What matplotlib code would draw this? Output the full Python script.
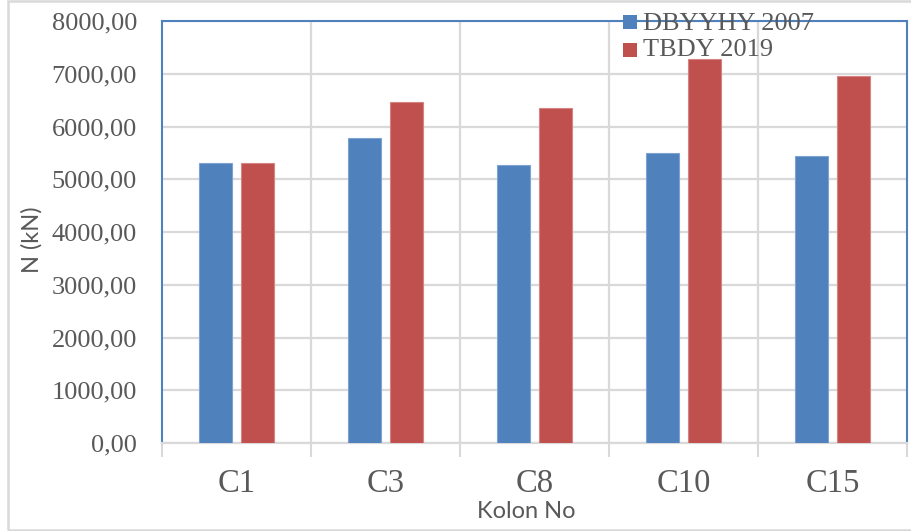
import matplotlib
matplotlib.use("Agg")
import matplotlib.pyplot as plt
from matplotlib.patches import Rectangle
from matplotlib.ticker import FuncFormatter, FixedLocator
import numpy as np

# Column axial forces (kN)
columns = ["C1", "C3", "C8", "C10", "C15"]
dbyyhy_2007 = [5309, 5777, 5277, 5504, 5441]
tbdy_2019 = [5303, 6465, 6352, 7271, 6955]
series_names = ["DBYYHY 2007", "TBDY 2019"]

blue = "#4F81BD"
red = "#C0504D"
grid_gray = "#D9D9D9"
text_gray = "#595959"

W, H = 911, 531
fig = plt.figure(figsize=(W / 100, H / 100), dpi=100)
ax = fig.add_axes([162 / W, 1 - 443 / H, (907 - 162) / W, (443 - 21) / H])

x = np.arange(len(columns))
bw = 0.224
off = 0.142
ax.bar(x - off, dbyyhy_2007, width=bw, color=blue, edgecolor="#7FA3D0",
       linewidth=0.8, zorder=3)
ax.bar(x + off, tbdy_2019, width=bw, color=red, edgecolor="#D48482",
       linewidth=0.8, zorder=3)

ax.set_xlim(-0.5, len(columns) - 0.5)
ax.set_ylim(0, 8000)
ax.set_yticks(np.arange(0, 8001, 1000))
ax.yaxis.set_major_formatter(FuncFormatter(lambda v, p: f"{v:.2f}".replace(".", ",")))

ax.set_xticks(x)
ax.set_xticklabels(columns)
ax.xaxis.set_minor_locator(FixedLocator(np.arange(-0.5, len(columns), 1.0)))

serif = ["Liberation Serif", "DejaVu Serif"]
for lab in ax.get_yticklabels():
    lab.set_fontfamily(serif)
    lab.set_fontsize(19)
    lab.set_color(text_gray)
for lab in ax.get_xticklabels():
    lab.set_fontfamily(serif)
    lab.set_fontsize(23.5)
    lab.set_color(text_gray)

ax.tick_params(axis="y", length=0, pad=18)
ax.tick_params(axis="x", which="major", length=0, pad=18)
ax.tick_params(axis="x", which="minor", length=10, width=1.5, color=grid_gray)

ax.grid(axis="y", color=grid_gray, linewidth=1.6, zorder=0)
for xb in np.arange(0.5, len(columns) - 1, 1.0):
    ax.axvline(xb, color=grid_gray, linewidth=1.6, zorder=0)

for side in ("left", "top", "right"):
    ax.spines[side].set_color(blue)
    ax.spines[side].set_linewidth(1.5)
ax.spines["bottom"].set_color(grid_gray)
ax.spines["bottom"].set_linewidth(1.6)
ax.set_axisbelow(True)

sans = ["Lato", "DejaVu Sans"]
ax.set_ylabel("N (kN)", family=sans, fontsize=17, color=text_gray)
ax.yaxis.set_label_coords((43 - 162) / (907 - 162), (443 - 240) / 422)
ax.set_xlabel("Kolon No", family=sans, fontsize=17, color=text_gray)
ax.xaxis.set_label_coords((526.5 - 162) / (907 - 162), -(501 - 443) / 422)

# Legend entries (square swatch + label), laid out in figure pixels
def px(xp, yp):
    return xp / W, 1 - yp / H

for i, (name, col) in enumerate(zip(series_names, [blue, red])):
    x0, y0 = px(623, 15 + 28 * i + 14)
    fig.patches.append(Rectangle((x0, y0), 14 / W, 14 / H,
                                 transform=fig.transFigure,
                                 facecolor=col, edgecolor="none", zorder=5))
    tx, ty = px(643, 30 + 26 * i)
    fig.text(tx, ty, name, family=serif, fontsize=19, color=text_gray,
             ha="left", va="baseline", zorder=5)

fig.patches.append(Rectangle((8 / W, 1 - 530 / H), (W - 7) / W, 529 / H,
                             transform=fig.transFigure, fill=False,
                             edgecolor=grid_gray, linewidth=1.8))

fig.savefig("out.png", dpi=100)
